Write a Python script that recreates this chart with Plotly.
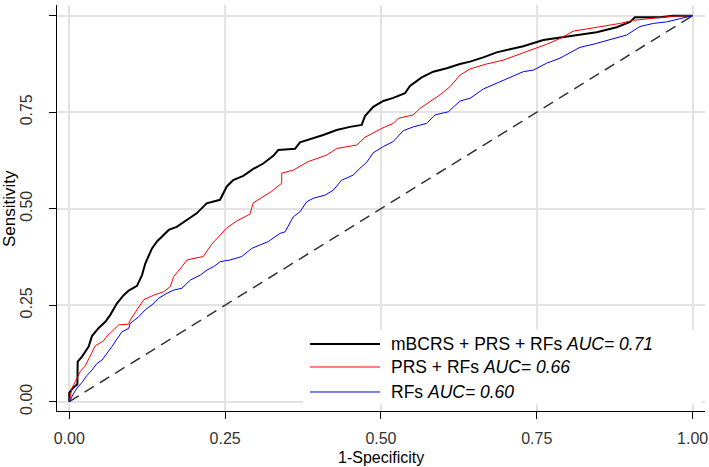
import plotly.graph_objects as go

# ---------------- data ----------------
mbcrs_fpr = [0, 0, .0055, .013, .0135, .0204, .0311, .0364, .0472, .0578, .0658, .0765, .0873, .0953, .1086, .1167,
             .1219, .1327, .1407, .1515, .1595, .1723, .1884, .2044, .2204, .2418, .2525, .2631, .2792, .2952,
             .3112, .3273, .3353, .3621, .3701, .3862, .4075, .4290, .4503, .4691, .4744, .4877, .5038, .5198,
             .5386, .5466, .5654, .5840, .6055, .6268, .6429, .6642, .6857, .7070, .7284, .7605, .7872, .8140,
             .8461, .8782, .8996, .9076, .9477, .9690, 1]
mbcrs_tpr = [0, .023, .035, .045, .104, .117, .143, .170, .191, .207, .225, .255, .276, .288, .300, .328,
             .358, .397, .415, .432, .445, .453, .471, .488, .514, .523, .557, .574, .585, .603,
             .617, .637, .652, .655, .672, .680, .691, .704, .712, .717, .740, .764, .779, .787,
             .799, .818, .840, .855, .864, .875, .881, .892, .905, .913, .921, .937, .943, .948,
             .957, .970, .984, .996, .996, 1.0, 1.0]

prs_fpr = [0, .0043, .0096, .0176, .0257, .0337, .0417, .0552, .0605, .0712, .0793, .0953, .0979, .1086, .1194,
           .1354, .1515, .1620, .1675, .1808, .1888, .2049, .2150, .2285, .2391, .2525, .2686, .2899, .2952,
           .3087, .3247, .3408, .3408, .3594, .3834, .4130, .4290, .4611, .4744, .5012, .5198, .5278, .5519,
           .5627, .5787, .5947, .6108, .6268, .6429, .6697, .6963, .7231, .7499, .7659, .7873, .8086, .8354,
           .8622, .8835, .9049, .9370, .9690, 1]
prs_tpr = [0, .035, .052, .078, .093, .120, .145, .158, .170, .186, .199, .201, .212, .238, .264,
           .276, .285, .298, .324, .350, .367, .373, .376, .408, .427, .450, .468, .486, .515,
           .529, .545, .566, .592, .600, .622, .639, .656, .665, .685, .708, .721, .734, .743,
           .760, .777, .795, .816, .846, .862, .875, .885, .900, .916, .926, .941, .960, .967,
           .974, .980, .988, .994, .999, 1.0]

rfs_fpr = [0, .0016, .0071, .0124, .0204, .0284, .0364, .0444, .0525, .0605, .0685, .0754, .0846, .0953, .0979,
           .1113, .1219, .1327, .1434, .1567, .1675, .1808, .1941, .2102, .2209, .2317, .2423, .2578, .2766,
           .2926, .3060, .3193, .3380, .3461, .3594, .3701, .3809, .3915, .4102, .4236, .4370, .4556, .4664,
           .4771, .4877, .5038, .5198, .5359, .5519, .5734, .5867, .6081, .6268, .6429, .6642, .6857, .7070,
           .7284, .7444, .7659, .7873, .8193, .8407, .8728, .8943, .9156, .9370, .9584, .9798, 1]
rfs_tpr = [0, .004, .022, .035, .050, .068, .082, .099, .108, .125, .143, .160, .181, .190, .203,
           .220, .238, .251, .268, .281, .289, .294, .315, .328, .341, .350, .363, .367, .376,
           .397, .406, .415, .436, .440, .479, .492, .518, .527, .535, .548, .574, .587, .605,
           .620, .645, .661, .674, .702, .712, .721, .743, .751, .779, .786, .810, .825, .838,
           .855, .859, .877, .890, .918, .926, .941, .950, .972, .980, .984, .992, 1.0]

model_names = ["mBCRS + PRS + RFs", "PRS + RFs", "RFs"]
model_auc = ["0.71", "0.66", "0.60"]
ref_line = [0, 1]
tick_vals = [0, 0.25, 0.5, 0.75, 1.0]
tick_text = ["0.00", "0.25", "0.50", "0.75", "1.00"]
x_title = "1-Specificity"
y_title = "Sensitivity"

# ---------------- styles ----------------
colors = ["#000000", "#FF0000", "#0000FF"]
widths = [2.0, 1.0, 1.0]
FONT = "Liberation Sans, Arial, sans-serif"

fig = go.Figure()
fig.add_trace(go.Scatter(x=ref_line, y=ref_line, mode="lines",
                         line=dict(color="#333333", width=1.5, dash="11px,7px"),
                         showlegend=False, hoverinfo="skip"))
for fx, ty, c, w, n in [(mbcrs_fpr, mbcrs_tpr, colors[0], widths[0], model_names[0]),
                        (prs_fpr, prs_tpr, colors[1], widths[1], model_names[1]),
                        (rfs_fpr, rfs_tpr, colors[2], widths[2], model_names[2])]:
    fig.add_trace(go.Scatter(x=fx, y=ty, mode="lines", name=n,
                             line=dict(color=c, width=w), showlegend=False))

# manual legend (long line samples as in reference)
shapes = [dict(type="rect", xref="paper", yref="paper", x0=0.380, x1=0.995, y0=0.017, y1=0.200,
               fillcolor="white", line=dict(width=0), layer="above")]
annotations = []
row_y = [0.165, 0.1084, 0.0468]
for i in range(3):
    shapes.append(dict(type="line", xref="paper", yref="paper", x0=0.3904, x1=0.4985,
                       y0=row_y[i], y1=row_y[i], line=dict(color=colors[i], width=widths[i]),
                       layer="above"))
    annotations.append(dict(xref="paper", yref="paper", x=0.512, y=row_y[i], xanchor="left",
                            yanchor="middle", showarrow=False,
                            text=f"{model_names[i]} <i>AUC= {model_auc[i]}</i>",
                            font=dict(family=FONT, size=17.5, color="#000000")))

# axis titles as annotations for exact placement
annotations.append(dict(xref="x", yref="paper", x=0.5, y=-0.115, xanchor="center", yanchor="middle",
                        showarrow=False, text=x_title,
                        font=dict(family=FONT, size=16, color="#000000")))
annotations.append(dict(xref="paper", yref="y", x=-0.0735, y=0.5, xanchor="center", yanchor="middle",
                        showarrow=False, text=y_title, textangle=-90,
                        font=dict(family=FONT, size=17, color="#000000")))

axis_common = dict(showgrid=True, gridcolor="#E3E3E3", gridwidth=1.5, zeroline=False,
                   showline=True, linecolor="#000000", linewidth=1, mirror=False,
                   ticks="outside", ticklen=7, tickwidth=1, tickcolor="#000000",
                   tickvals=tick_vals, ticktext=tick_text, automargin=False,
                   tickfont=dict(family=FONT, size=16, color="#333333"))

fig.update_layout(
    width=709, height=467,
    margin=dict(l=57, r=4, t=5, b=56),
    paper_bgcolor="white", plot_bgcolor="white",
    shapes=shapes, annotations=annotations,
    xaxis=dict(range=[-0.0197, 1.0199], ticklabelstandoff=6, **axis_common),
    yaxis=dict(range=[-0.0241, 1.0277], tickangle=-90, ticklabelstandoff=11, **axis_common),
)
fig.write_html("out.html", config={"displayModeBar": False},
               post_script="document.body.style.margin='0px';")
